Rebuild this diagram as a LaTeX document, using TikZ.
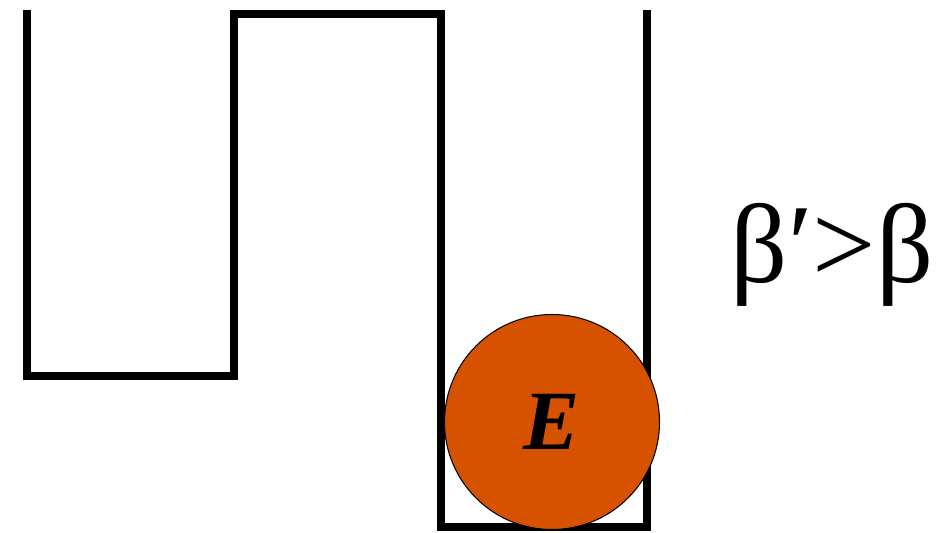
\documentclass[tikz,border=0pt]{standalone}
\usepackage{fontspec}
\setmainfont{Liberation Serif}
\definecolor{ballorange}{RGB}{215,82,0}

\begin{document}
\begin{tikzpicture}
\useasboundingbox (0,0) rectangle (19.000,10.660);
\draw[line width=4.6pt, line join=miter] (0.540,10.460) -- (0.540,3.140) -- (4.680,3.140) -- (4.680,10.380) -- (8.820,10.380) -- (8.820,0.120) -- (12.940,0.120) -- (12.940,10.460);
\node[circle, draw=black, line width=0.6pt, fill=ballorange, minimum size=4.300cm, inner sep=0pt] (ball) at (11.040,2.220) {};
\node[font=\fontsize{48}{52}\selectfont\bfseries\itshape] (energy) at (ball.center) {E};
\node[anchor=base, font=\fontsize{64}{68}\selectfont, inner sep=0pt] (beta) at (16.640,5.000) {β′>β};
\end{tikzpicture}
\end{document}
